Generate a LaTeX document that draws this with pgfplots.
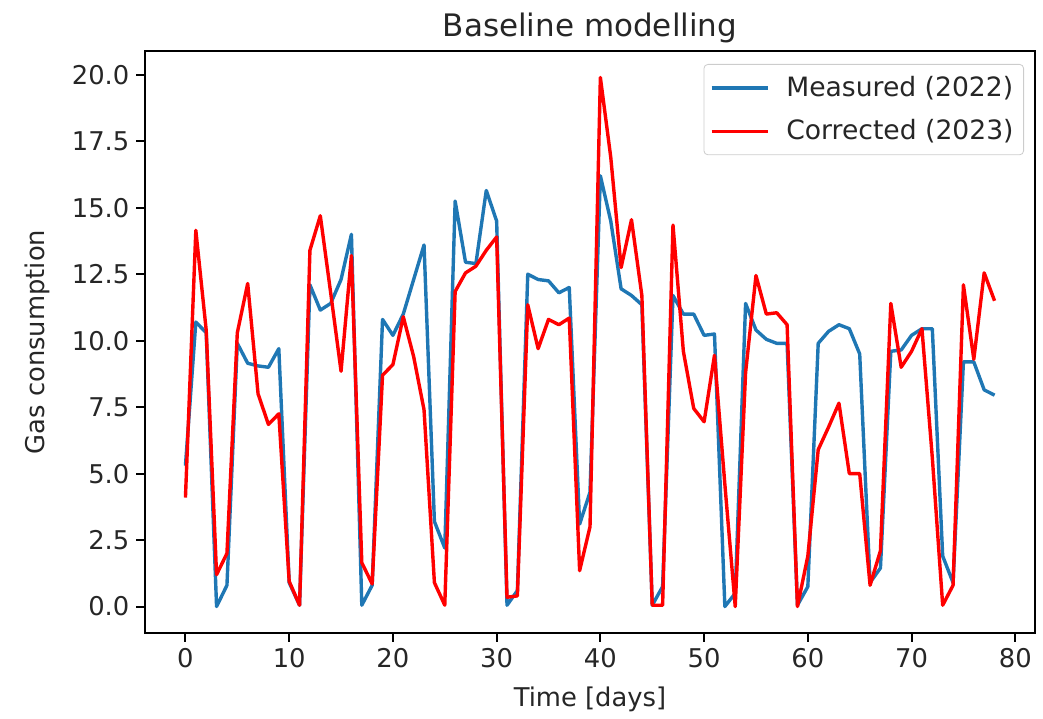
\documentclass[border=0pt]{standalone}
\usepackage{fontspec}
\setmainfont{DejaVu Sans}
\usepackage{pgfplots}
\pgfplotsset{compat=1.18}
\definecolor{mplblue}{HTML}{1F77B4}
\pgfplotstableread{
x y
0 5.3
1 10.7
2 10.3
3 0.0
4 0.8
5 9.9
6 9.15
7 9.05
8 9.0
9 9.7
10 0.9
11 0.05
12 12.1
13 11.15
14 11.4
15 12.3
16 14.0
17 0.05
18 0.8
19 10.8
20 10.2
21 11.0
22 12.3
23 13.6
24 3.2
25 2.2
26 15.25
27 12.95
28 12.9
29 15.65
30 14.5
31 0.05
32 0.6
33 12.5
34 12.3
35 12.25
36 11.8
37 12.0
38 3.1
39 4.3
40 16.2
41 14.5
42 11.95
43 11.7
44 11.35
45 0.05
46 0.75
47 11.7
48 11.0
49 11.0
50 10.2
51 10.25
52 0.0
53 0.5
54 11.4
55 10.4
56 10.05
57 9.9
58 9.9
59 0.05
60 0.75
61 9.9
62 10.35
63 10.6
64 10.45
65 9.5
66 0.9
67 1.45
68 9.6
69 9.65
70 10.2
71 10.45
72 10.45
73 1.9
74 0.9
75 9.2
76 9.2
77 8.15
78 7.95
}\measured
\pgfplotstableread{
x y
0 4.1
1 14.15
2 10.4
3 1.2
4 2.0
5 10.3
6 12.15
7 8.0
8 6.85
9 7.25
10 0.95
11 0.05
12 13.4
13 14.7
14 11.8
15 8.85
16 13.2
17 1.65
18 0.85
19 8.7
20 9.1
21 10.9
22 9.4
23 7.4
24 0.9
25 0.05
26 11.85
27 12.55
28 12.8
29 13.4
30 13.9
31 0.35
32 0.4
33 11.35
34 9.7
35 10.8
36 10.6
37 10.85
38 1.35
39 3.0
40 19.9
41 16.9
42 12.75
43 14.55
44 11.7
45 0.05
46 0.05
47 14.35
48 9.6
49 7.45
50 6.95
51 9.45
52 4.6
53 0.0
54 8.8
55 12.45
56 11.0
57 11.05
58 10.6
59 0.0
60 1.9
61 5.9
62 6.75
63 7.65
64 5.0
65 5.0
66 0.8
67 2.1
68 11.4
69 9.0
70 9.6
71 10.45
72 5.6
73 0.05
74 0.8
75 12.1
76 9.3
77 12.55
78 11.5
}\corrected
\begin{document}
\begin{tikzpicture}
\path[use as bounding box] (-72.5pt,-42.5pt) rectangle (449pt,316.5pt);
\begin{axis}[
  scale only axis,
  width=445pt, height=291pt,
  xmin=-3.9, xmax=81.9,
  ymin=-0.995, ymax=20.895,
  xtick={0,10,...,80},
  ytick={0,2.5,...,20},
  yticklabel style={/pgf/number format/.cd,fixed,fixed zerofill,precision=1},
  /pgf/number format/assume math mode=true,
  tick align=outside,
  xtick pos=bottom, ytick pos=left,
  major tick length=4.3pt,
  every tick/.style={black, line width=1pt},
  axis line style={line width=1pt},
  tick label style={font=\fontsize{12.9pt}{14pt}\selectfont, text=black!85},
  label style={font=\fontsize{12.9pt}{14pt}\selectfont, text=black!85},
  title style={font=\fontsize{15.5pt}{17pt}\selectfont, text=black!85, at={(0.5,1.005)}, anchor=base},
  title={Baseline modelling},
  xlabel={Time [days]},
  ylabel={Gas consumption},
  xlabel style={at={(axis description cs:0.5,-0.127)}, anchor=base},
  ylabel style={at={(axis description cs:-0.1213,0.5)}, anchor=center},
  legend style={at={(1,1)}, xshift=-5.5pt, yshift=-6.5pt, anchor=north east,
    draw=black!20, rounded corners=2pt, fill=white, fill opacity=0.8, text opacity=1,
    font=\fontsize{13.3pt}{15pt}\selectfont, text=black!85,
    inner xsep=3pt, inner ysep=4pt, row sep=6pt,
    /tikz/every odd column/.append style={column sep=6.5pt}},
  legend cell align=left,
  legend image code/.code={\draw[#1] (0pt,0pt) -- (28pt,0pt);},
]
\addplot[mplblue, line width=1.7pt, line join=round] table[x=x,y=y] {\measured};
\addlegendentry{Measured (2022)}
\addplot[red, line width=1.7pt, line join=round] table[x=x,y=y] {\corrected};
\addlegendentry{Corrected (2023)}
\end{axis}
\end{tikzpicture}
\end{document}
